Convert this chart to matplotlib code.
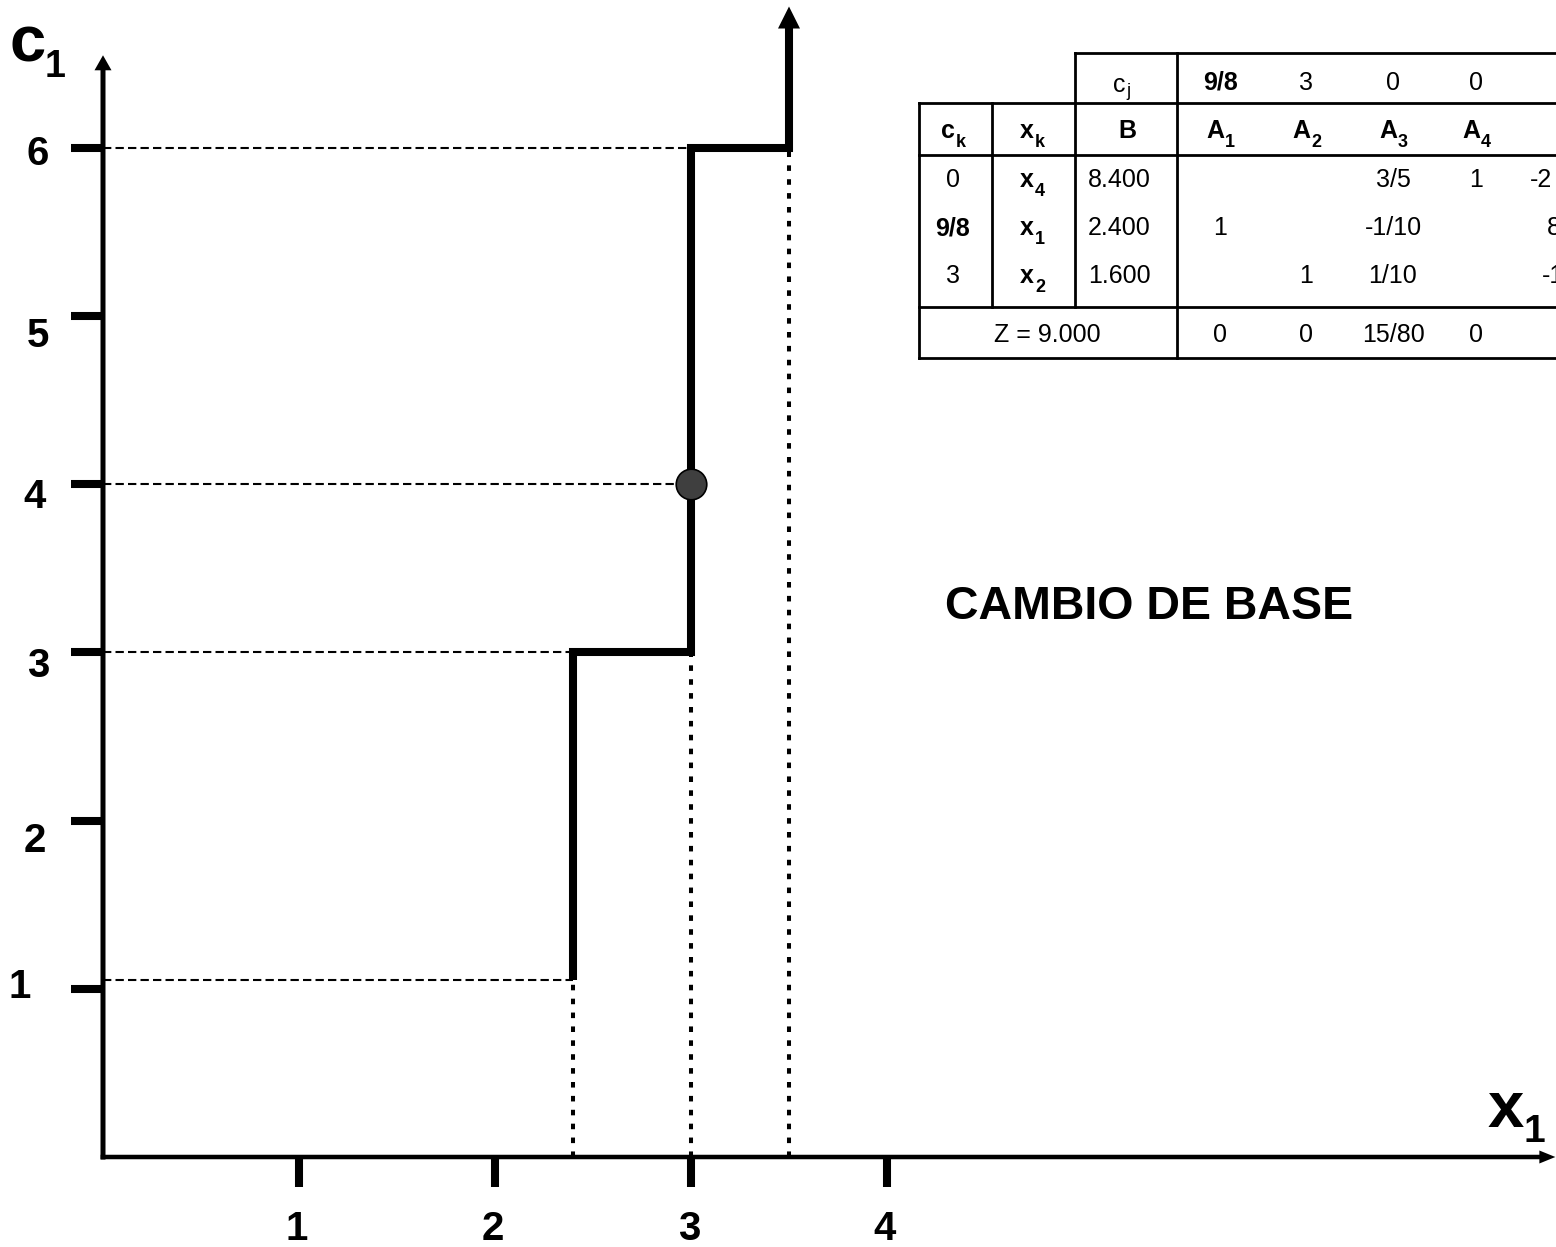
import matplotlib
matplotlib.use("Agg")
import matplotlib.pyplot as plt
from matplotlib.lines import Line2D
from matplotlib.transforms import offset_copy

plt.rcParams['font.family'] = ['Liberation Sans', 'DejaVu Sans']
plt.rcParams['lines.scale_dashes'] = False

# ---------------- data ----------------
x_ticks = [1, 2, 3, 4]
y_ticks = [1, 2, 3, 4, 5, 6]
x1_levels = [2.4, 3.0, 3.5]       # optimal x1 on each c1 interval
c1_breaks = [1.05, 3.0, 6.0]      # c1 values where the basis changes
point_x1 = 3.0
point_c1 = 4.0

title_text = "CAMBIO DE BASE"

cj_values = ["9/8", "3", "0", "0"]
col_headers = [("A", "1"), ("A", "2"), ("A", "3"), ("A", "4")]
basis_ck = ["0", "9/8", "3"]
basis_ck_bold = [False, True, False]
basis_xk = [("x", "4"), ("x", "1"), ("x", "2")]
basis_B = ["8.400", "2.400", "1.600"]
body = [["", "", "3/5", "1"],
        ["1", "", "-1/10", ""],
        ["", "1", "1/10", ""]]
extra_col = ["-2", "8", "-1"]
z_label = "Z = 9.000"
z_row = ["0", "0", "15/80", "0"]

# ---------------- figure ----------------
W, H, DPI = 1556, 1247, 100
fig = plt.figure(figsize=(W / DPI, H / DPI), dpi=DPI)
ax = fig.add_axes([0, 0, 1, 1])
OX, OY, SX, SY = 103, 1157, 196.0, 168.2   # origin pixel and pixels per unit
ax.set_xlim(-OX / SX, (W - OX) / SX)
ax.set_ylim((OY - H) / SY, OY / SY)
ax.axis('off')

def px(x, y):
    return x / W, 1 - y / H

dash_style = (0, (6.0, 3.0))
dot_style = (0, (4.0, 6.0))

# dashed horizontal guides
for c, x in zip(c1_breaks, x1_levels):
    ax.plot([0, x], [c, c], color='k', lw=1.5, ls=dash_style, zorder=1)
ax.plot([0, point_x1], [point_c1, point_c1], color='k', lw=1.5, ls=dash_style, zorder=1)

# dotted vertical guides
for c, x in zip(c1_breaks, x1_levels):
    ax.plot([x, x], [0, c], color='k', lw=2.9, ls=dot_style, zorder=1,
            dash_capstyle='butt')

# step function
xs = [x1_levels[0]]
ys = [c1_breaks[0]]
for i in range(len(x1_levels) - 1):
    xs += [x1_levels[i], x1_levels[i + 1]]
    ys += [c1_breaks[i + 1], c1_breaks[i + 1]]
top_c1 = 6.84
xs.append(x1_levels[-1]); ys.append(top_c1 - 0.12)
ax.plot(xs, ys, color='k', lw=5.8, solid_joinstyle='miter',
        solid_capstyle='butt', zorder=3)
ax.arrow(x1_levels[-1], top_c1 - 0.2, 0, 0.2, width=8 / SX, head_width=22 / SX,
         head_length=22 / SY, length_includes_head=True, color='k', lw=0, zorder=3)

# the point
ax.plot([point_x1], [point_c1], marker='o', ms=22, mfc='#3f3f3f', mec='k',
        mew=1.2, zorder=4)

# axes with arrows
ax.arrow(0, -0.015, 0, 6.55 + 0.015, width=5 / SX, head_width=17 / SX,
         head_length=15 / SY, length_includes_head=True, color='k', lw=0, zorder=2)
ax.arrow(-0.012, 0, 7.41 + 0.012, 0, width=4.5 / SY, head_width=13 / SY,
         head_length=16 / SX, length_includes_head=True, color='k', lw=0, zorder=2)

# ticks
for t in y_ticks:
    ax.plot([-32 / SX, 0], [t, t], color='k', lw=5.8, solid_capstyle='butt', zorder=2)
for t in x_ticks:
    ax.plot([t, t], [0, -30 / SY], color='k', lw=5.8, solid_capstyle='butt', zorder=2)

# tick labels (hand-placed offsets like the original)
ylab_dx = [-83, -68, -65, -68, -65, -65]
ylab_dy = [2, -20, -14, -13, -20, -6]
for t, dx, dy in zip(y_ticks, ylab_dx, ylab_dy):
    tr = offset_copy(ax.transData, fig=fig, x=dx, y=dy, units='dots')
    ax.text(0, t, str(t), transform=tr, ha='center', va='center',
            fontsize=29, fontweight='bold')
for t in x_ticks:
    tr = offset_copy(ax.transData, fig=fig, x=-2, y=-72, units='dots')
    ax.text(t, 0, str(t), transform=tr, ha='center', va='center',
            fontsize=29, fontweight='bold')

# axis names
fig.text(*px(10, 62), "c", fontsize=47, fontweight='bold', ha='left', va='baseline')
fig.text(*px(45, 77), "1", fontsize=27, fontweight='bold', ha='left', va='baseline')
fig.text(*px(1488, 1127), "x", fontsize=47, fontweight='bold', ha='left', va='baseline')
fig.text(*px(1524, 1142), "1", fontsize=28, fontweight='bold', ha='left', va='baseline')

# title
fig.text(*px(1149, 607), title_text, fontsize=33.5, fontweight='bold',
         ha='center', va='center')

# ---------------- table ----------------
tlw = 2.0
def hline(y, x0, x1):
    fig.add_artist(Line2D([x0 / W, x1 / W], [1 - y / H, 1 - y / H], lw=tlw,
                          color='k', transform=fig.transFigure, solid_capstyle='projecting'))
def vline(x, y0, y1):
    fig.add_artist(Line2D([x / W, x / W], [1 - y0 / H, 1 - y1 / H], lw=tlw,
                          color='k', transform=fig.transFigure, solid_capstyle='projecting'))

hline(53, 1075, W + 5)
hline(103, 919, W + 5)
hline(155, 919, W + 5)
hline(307, 919, W + 5)
hline(358, 919, W + 5)
vline(919, 103, 358)
vline(992, 103, 307)
vline(1075, 53, 307)
vline(1177, 53, 358)

col_ck, col_xk, col_B = 953, 1032, 1124
col_A = [1220, 1306, 1393, 1476]
base_cj, base_hdr = 90, 138
base_rows = [187, 235, 283]
base_z = 342
fs = 18
sub_fs = 13

def cell(x, y, s, bold=False, size=fs, ha='center'):
    return fig.text(*px(x, y), s, fontsize=size, ha=ha, va='baseline',
                    fontweight='bold' if bold else 'normal')

def sub_cell(x, y, main, sub, bold=True, drop=4, shift=-5):
    t = cell(x + shift, y, main, bold=bold)
    fig.add_artist(matplotlib.text.Annotation(
        sub, xy=(1, 0), xycoords=t, xytext=(1, -drop), textcoords='offset pixels',
        ha='left', va='baseline', fontsize=sub_fs,
        fontweight='bold' if bold else 'normal'))
    return t

sub_cell(col_B, 92, "c", "j", bold=False, drop=-1)
for x, s in zip(col_A, cj_values):
    cell(x, base_cj, s, bold=(s == "9/8"))
sub_cell(col_ck, base_hdr, "c", "k")
sub_cell(col_xk, base_hdr, "x", "k")
cell(col_B + 3, base_hdr, "B", bold=True)
for x, (m, s) in zip(col_A, col_headers):
    sub_cell(x, base_hdr, m, s)
extra_x = [1530, 1547, 1542]
for i, yb in enumerate(base_rows):
    cell(col_ck, yb, basis_ck[i], bold=basis_ck_bold[i])
    sub_cell(col_xk, yb, basis_xk[i][0], basis_xk[i][1])
    cell(col_B - 5, yb, basis_B[i])
    for x, s in zip(col_A, body[i]):
        if s:
            cell(x, yb, s)
    cell(extra_x[i], yb, extra_col[i], ha='left')
cell(1047, base_z, z_label)
for x, s in zip(col_A, z_row):
    cell(x, base_z, s)

fig.savefig("out.png", dpi=DPI)
